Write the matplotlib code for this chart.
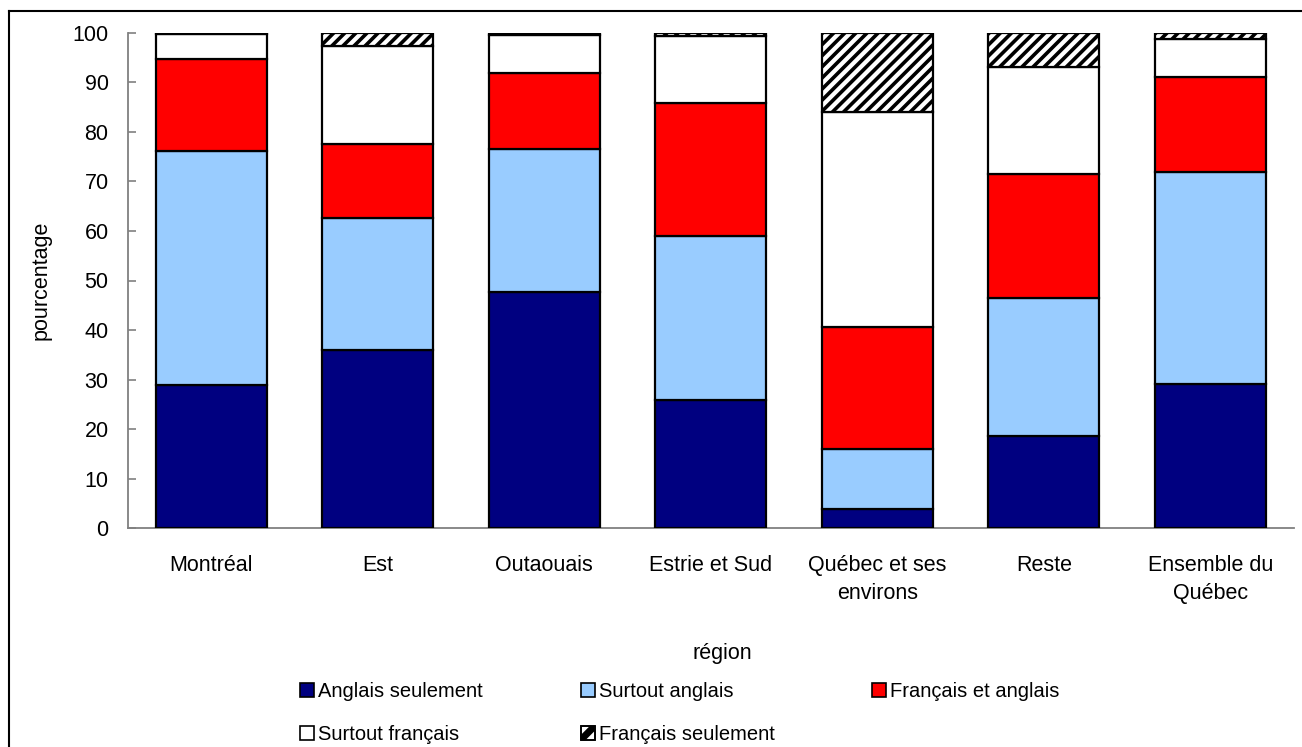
import matplotlib
matplotlib.use("Agg")
import matplotlib.pyplot as plt
from matplotlib.patches import Patch, Rectangle, Polygon
from matplotlib.lines import Line2D
from matplotlib.legend_handler import HandlerBase
import numpy as np

plt.rcParams['font.family'] = ['Liberation Sans', 'DejaVu Sans']
plt.rcParams['hatch.linewidth'] = 2.6

regions = ["Montréal", "Est", "Outaouais", "Estrie et Sud",
           "Québec et ses\nenvirons", "Reste", "Ensemble du\nQuébec"]

series_names = ["Anglais seulement", "Surtout anglais", "Français et anglais",
                "Surtout français", "Français seulement"]

anglais_seulement = [29.0, 36.0, 47.6, 25.9, 3.8, 18.7, 29.1]
surtout_anglais = [47.2, 26.7, 28.9, 33.1, 12.1, 27.7, 42.7]
francais_et_anglais = [18.5, 14.8, 15.3, 26.8, 24.7, 25.1, 19.2]
surtout_francais = [5.0, 19.9, 7.8, 13.5, 43.3, 21.6, 7.8]
francais_seulement = [0.3, 2.6, 0.4, 0.7, 16.1, 6.9, 1.2]

yticks = [0, 10, 20, 30, 40, 50, 60, 70, 80, 90, 100]

series = [anglais_seulement, surtout_anglais, francais_et_anglais,
          surtout_francais, francais_seulement]
facecolors = ["#000080", "#99CCFF", "#FF0000", "#FFFFFF", "#FFFFFF"]
hatches = [None, None, None, None, "///"]


class HatchSwatch(HandlerBase):
    """Small square key with a single black diagonal band."""

    def create_artists(self, legend, orig_handle, xdescent, ydescent,
                       width, height, fontsize, trans):
        x0, y0 = -xdescent, -ydescent
        w, h = width, height
        band = Polygon([[x0, y0], [x0 + 0.35 * w, y0], [x0 + w, y0 + 0.65 * h],
                        [x0 + w, y0 + h], [x0 + 0.65 * w, y0 + h], [x0, y0 + 0.35 * h]],
                       closed=True, facecolor="black", edgecolor="none",
                       transform=trans)
        box = Rectangle((x0, y0), w, h, facecolor="white", edgecolor="black",
                        linewidth=1.2, transform=trans)
        edge = Rectangle((x0, y0), w, h, facecolor="none", edgecolor="black",
                         linewidth=1.2, transform=trans)
        return [box, band, edge]


W, H = 1302, 747
fig = plt.figure(figsize=(W / 100, H / 100), dpi=100)
ax = fig.add_axes([128 / W, 1 - 528.3 / H, (1293.5 - 128) / W, (528.3 - 32.7) / H])

x = np.arange(len(regions))
bottom = np.zeros(len(regions))
for vals, fc, h in zip(series, facecolors, hatches):
    ax.bar(x, vals, width=0.667, bottom=bottom, color=fc, edgecolor="black",
           linewidth=1.6, hatch=h, zorder=3)
    bottom += np.array(vals)

ax.set_xlim(-0.5, len(regions) - 0.5)
ax.set_ylim(0, 100)
ax.set_yticks(yticks)
ax.set_xticks(x)
ax.set_xticklabels(regions, fontsize=15.5, linespacing=1.45)
ax.tick_params(axis="x", length=0, pad=19)
ax.tick_params(axis="y", direction="in", length=6, width=1.2, color="#808080",
               labelsize=15.5, pad=14)
for s in ("top", "right"):
    ax.spines[s].set_visible(False)
for s in ("left", "bottom"):
    ax.spines[s].set_color("#808080")
    ax.spines[s].set_linewidth(1.3)

ax.set_ylabel("pourcentage", fontsize=15.5)
ax.yaxis.set_label_coords(-0.066, 0.5)
ax.set_xlabel("région", fontsize=15.5)
ax.xaxis.set_label_coords(0.51, -0.232)

# legend filled row by row: 3 entries on the first row, 2 on the second
handles = [Patch(facecolor=fc, edgecolor="black", linewidth=1.2)
           for fc in facecolors]
hatched_key = handles[4]
order = [0, 3, 1, 4, 2]
fig.legend([handles[i] for i in order], [series_names[i] for i in order],
           loc="upper left", bbox_to_anchor=(300 / W, 1 - 682 / H), ncol=3,
           frameon=False, fontsize=14.5, handlelength=0.7, handleheight=0.7,
           handletextpad=0.2, columnspacing=4.85, labelspacing=1.2,
           borderpad=0, borderaxespad=0,
           handler_map={hatched_key: HatchSwatch()})

# outer chart frame (top and left edges)
fig.add_artist(Line2D([9 / W, 9 / W], [0, 1 - 11 / H], transform=fig.transFigure,
                      color="black", linewidth=1.5))
fig.add_artist(Line2D([9 / W, 1], [1 - 11 / H, 1 - 11 / H], transform=fig.transFigure,
                      color="black", linewidth=1.5))

fig.savefig("out.png", dpi=100)
